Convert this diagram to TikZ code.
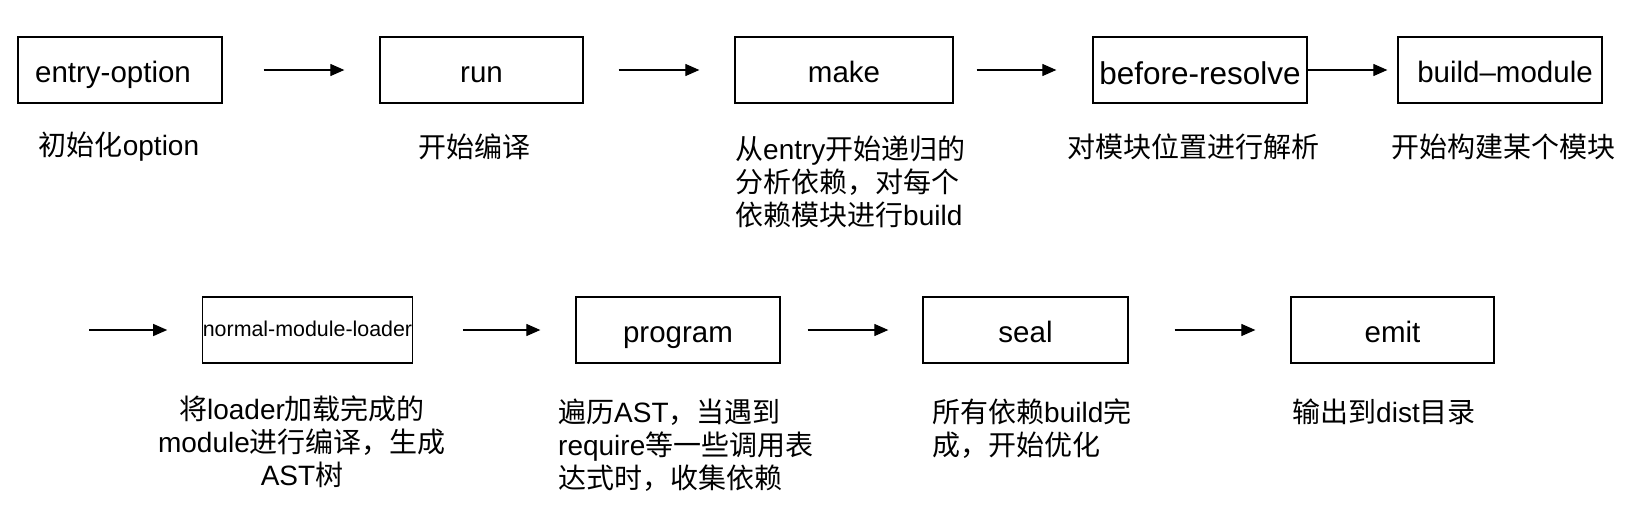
\documentclass[tikz,border=0pt]{standalone}
\usepackage{fontspec}
\setmainfont{Liberation Sans}
\newfontfamily\cjk{Noto Sans CJK SC}
\usetikzlibrary{arrows.meta}
\newcommand\zhs[1]{{\cjk #1}}
\newcommand\capfnt{\fontsize{28}{33}\selectfont}
\newcommand\boxfnt{\fontsize{29.5}{33}\selectfont}
\tikzset{
  box/.style={draw, line width=1.3pt, minimum width=#1, minimum height=66pt, inner sep=0pt, font=\boxfnt, text height=27pt, text depth=3pt},
  captext/.style={inner sep=0pt, font=\capfnt},
  flow/.style={line width=1.2pt, -{Triangle[length=14pt,width=12pt]}},
}
\begin{document}
\begin{tikzpicture}[x=1pt,y=-1pt]
\useasboundingbox[fill=white] (0,0) rectangle (1644,506);
% row 1
\node[box=204pt] (eo) at (120,70) {entry-option\hspace*{14pt}};
\node[box=203pt] (run) at (481.5,70) {run};
\node[box=218pt] (make) at (844,70) {make};
\node[box=214pt, font=\fontsize{31.5}{34}\selectfont, text height=30pt, text depth=2pt] (br) at (1200,70) {before-resolve};
\node[box=204pt] (bm) at (1500,70) {\hspace*{10pt}build–module};
% row 2
\node[box=203pt, font=\fontsize{21.4}{24}\selectfont, text height=15pt, text depth=3pt] (nml) at (307.5,330) {normal-module-loader};
\node[box=204pt] (prog) at (678,330) {program};
\node[box=205pt] (seal) at (1025.5,330) {seal};
\node[box=203pt] (emit) at (1392.5,330) {emit};
\coordinate (c0) at (89,330);
% arrows
\draw[flow, shorten <=41pt, shorten >=35pt] (eo.east) -- (run.west);
\draw[flow, shorten <=35pt, shorten >=35pt] (run.east) -- (make.west);
\draw[flow, shorten <=23pt, shorten >=36pt] (make.east) -- (br.west);
\draw[flow, shorten >=10pt] (br.east) -- (bm.west);
\draw[flow, shorten >=35pt] (c0) -- (nml.west);
\draw[flow, shorten <=50pt, shorten >=35pt] (nml.east) -- (prog.west);
\draw[flow, shorten <=27pt, shorten >=34pt] (prog.east) -- (seal.west);
\draw[flow, shorten <=46pt, shorten >=35pt] (seal.east) -- (emit.west);
% captions
\node[captext] (t1) at (119,147) {\zhs{初始化}option};
\node[captext] (t2) at (474,147) {\zhs{开始编译}};
\node[captext, anchor=west, align=left] (t3) at (735,181.5) {\zhs{从}entry\zhs{开始递归的}\\\zhs{分析依赖，对每个}\\\zhs{依赖模块进行}build};
\node[captext] (t4) at (1193,147) {\zhs{对模块位置进行解析}};
\node[captext] (t5) at (1503,147) {\zhs{开始构建某个模块}};
\node[captext, align=center] (t6) at (302,441.5) {\zhs{将}loader\zhs{加载完成的}\\module\zhs{进行编译，生成}\\AST\zhs{树}};
\node[captext, anchor=west, align=left] (t7) at (558,445) {\zhs{遍历}AST\zhs{，当遇到}\\require\zhs{等一些调用表}\\\zhs{达式时，收集依赖}};
\node[captext, anchor=west, align=left] (t8) at (932,428.5) {\zhs{所有依赖}build\zhs{完}\\\zhs{成，开始优化}};
\node[captext] (t9) at (1384,412) {\zhs{输出到}dist\zhs{目录}};
\end{tikzpicture}
\end{document}
